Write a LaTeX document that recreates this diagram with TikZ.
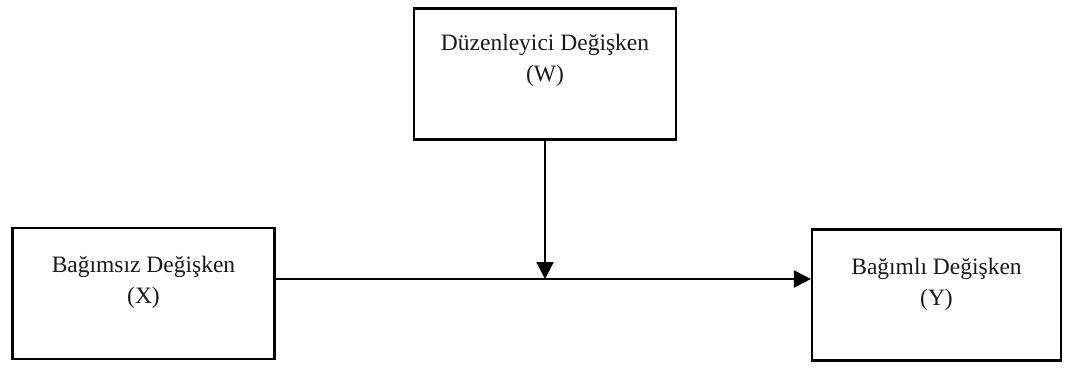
\documentclass[tikz,border=0pt]{standalone}
\usepackage{fontspec}
\setmainfont{Liberation Serif}
\usetikzlibrary{arrows.meta}
\begin{document}
\begin{tikzpicture}[x=1pt,y=-1pt,
  box/.style={draw, line width=2.2pt, rectangle, minimum width=#1, minimum height=131pt, inner sep=0pt},
  lbl/.style={font=\fontsize{23.5}{31}\selectfont, align=center, anchor=north, inner sep=0pt, text=black!90},
  conn/.style={line width=2.2pt, -{Triangle[length=17pt,width=17pt]}}]
\useasboundingbox (0,0) rectangle (1067,367);
\node[box=262pt] (W) at (545,74) {};
\node[box=262pt] (X) at (143.5,293.5) {};
\node[box=249pt] (Y) at (936.5,295) {};
\node[lbl] (Wt) at (545,34) {Düzenleyici Değişken\\(W)};
\node[lbl] (Xt) at (143.5,256) {Bağımsız Değişken\\(X)};
\node[lbl] (Yt) at (936.5,258) {Bağımlı Değişken\\(Y)};
\coordinate (J) at (545,279);
\draw[conn] (X.east |- J) -- (Y.west |- J);
\draw[conn] (W.south) -- (J);
\end{tikzpicture}
\end{document}
